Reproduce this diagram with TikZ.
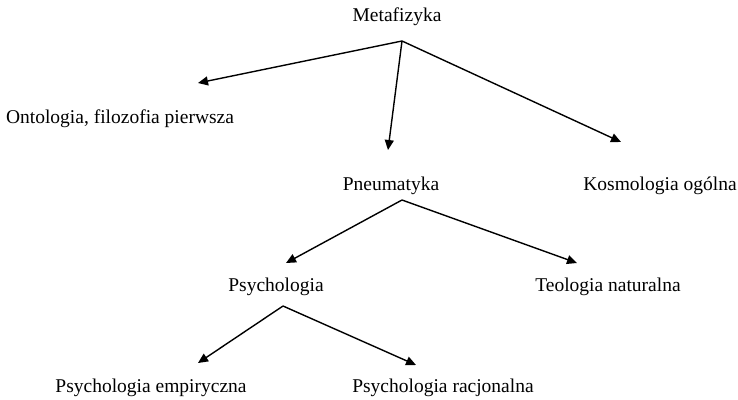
\documentclass[tikz,border=0pt]{standalone}
\usepackage{fontspec}
\setmainfont{Liberation Serif}
\usepackage{tikz}
\usetikzlibrary{arrows.meta}

\begin{document}
\begin{tikzpicture}[x=1pt,y=-1pt,
    t/.style={anchor=base,inner sep=0pt,font=\fontsize{19.5}{23}\selectfont},
    a/.style={-{Triangle[length=10pt,width=9pt]},line width=1.4pt}]
    \useasboundingbox (0,0) rectangle (738,399);
    \node[t] (meta) at (397,21.5) {Metafizyka};
    \node[t] (onto) at (120,123) {Ontologia, filozofia pierwsza};
    \node[t] (pneu) at (391,190) {Pneumatyka};
    \node[t] (kosm) at (660,190) {Kosmologia ogólna};
    \node[t] (psych) at (276,291) {Psychologia};
    \node[t] (teol) at (608,291) {Teologia naturalna};
    \node[t] (emp) at (151,392) {Psychologia empiryczna};
    \node[t] (rac) at (443,392) {Psychologia racjonalna};
    % punkty wyjscia
    \coordinate (meta-out) at (402,41);
    \coordinate (pneu-out) at (402,200);
    \coordinate (psych-out) at (283,306);
    % groty
    \coordinate (onto-in) at (198,83);
    \coordinate (pneu-in) at (388,150);
    \coordinate (kosm-in) at (621,142);
    \coordinate (psych-in) at (286,263);
    \coordinate (teol-in) at (577,263);
    \coordinate (emp-in) at (198,363);
    \coordinate (rac-in) at (416,365);
    \draw[a] (meta-out) -- (onto-in);
    \draw[a] (meta-out) -- (pneu-in);
    \draw[a] (meta-out) -- (kosm-in);
    \draw[a] (pneu-out) -- (psych-in);
    \draw[a] (pneu-out) -- (teol-in);
    \draw[a] (psych-out) -- (emp-in);
    \draw[a] (psych-out) -- (rac-in);
\end{tikzpicture}
\end{document}
